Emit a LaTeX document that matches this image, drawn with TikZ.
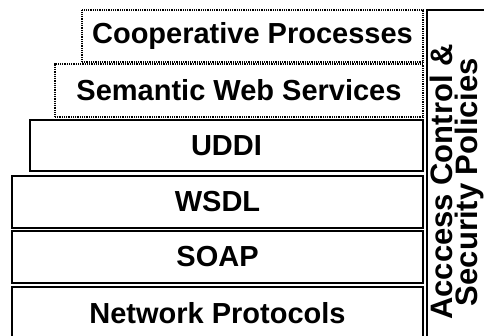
\documentclass[tikz,border=0pt]{standalone}
\usepackage{fontspec}
\setmainfont{Liberation Sans}
\begin{document}
\begin{tikzpicture}[x=1pt,y=-1pt,
  layerbase/.style={anchor=north west, inner sep=0pt, outer sep=0pt,
    font=\fontsize{29}{29}\selectfont\bfseries, text=black},
  solidlayer/.style={layerbase, draw=black, line width=1.6pt},
  dottedlayer/.style={layerbase, draw=black, line width=1.3pt, dash pattern=on 1pt off 0.8pt},
  sidebox/.style={draw=black, line width=1.6pt, rotate=90, align=center, inner sep=0pt,
    font=\fontsize{31}{25}\selectfont\bfseries}
]
\clip (0,0) rectangle (484,336);
\fill[white] (0,0) rectangle (484,336);
\node[dottedlayer, minimum width=341pt, minimum height=52pt] (coop) at (82,10) {Cooperative Processes};
\node[dottedlayer, minimum width=368pt, minimum height=53pt] (sws) at (55,64) {Semantic Web Services};
\node[solidlayer, minimum width=393pt, minimum height=51pt] (uddi) at (30,120) {UDDI};
\node[solidlayer, minimum width=411pt, minimum height=52pt] (wsdl) at (12,176) {WSDL};
\node[solidlayer, minimum width=411pt, minimum height=52pt] (soap) at (12,231) {SOAP};
\node[solidlayer, minimum width=411pt, minimum height=53pt] (net) at (12,287) {Network Protocols};
\node[sidebox, minimum width=344pt, minimum height=60pt] (acl) at (457,182) {Acccess Control \&\\Security Policies};
\end{tikzpicture}
\end{document}
